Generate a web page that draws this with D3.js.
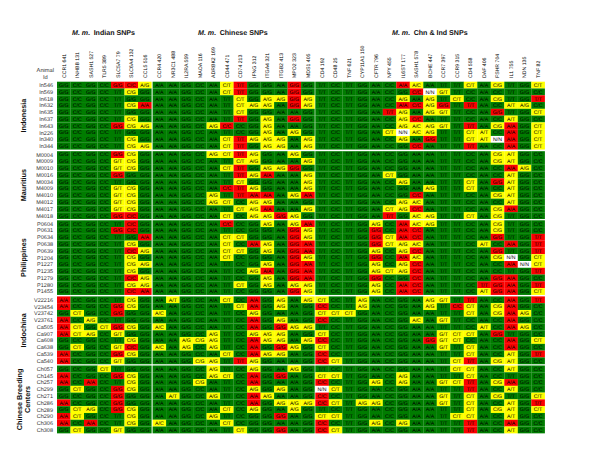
<!DOCTYPE html>
<html><head><meta charset="utf-8">
<script src="https://cdnjs.cloudflare.com/ajax/libs/d3/7.8.5/d3.min.js"></script>
<style>html,body{margin:0;padding:0;background:#fff}svg{display:block;font-family:"Liberation Sans",Arial,sans-serif;text-rendering:geometricPrecision}</style>
</head><body><svg id="c" width="600" height="464"></svg>
<script>
const snpPanels = ["Indian SNPs","Chinese SNPs","Chn & Ind SNPs"];
const indianSnps = ["CCR1 641","INHBB 131","SASH1 527","TLR5 389","SLC5A7 79","SLC6A4 132","CCL5 516"];
const chineseSnps = ["CCR4 420","NR3C1 488","IL2RA 559","MAOA 116","ADRBK2 169","CD44 471","CD74 213","IFNG 312","ITGA4 321","ITGB2 413","MPO2 323","MDS1 405"];
const sharedSnps = ["CD4 192","CD48 25","TNF 621","CYP11A1 150","CFTR 796","NPY 455","IL6ST 177","SASH1 578","BCHE 447","CCR7 397","CCR9 315","CD4 558","DAF 406","FSHR 704","IL1 755","NDN 135","TNF 82"];
// alleles of each SNP: common homozygote letter, rare homozygote letter
const indianAlleles = ["GA","CT","GA","CT","TG","GC","GA"];
const chineseAlleles = ["AC","AT","GA","CG","AG","TC","CT","GA","GA","AG","AG","GA"];
const sharedAlleles = ["TC","CT","TC","GA","AG","CT","GA","AC","AG","TG","TC","CT","AT","CG","TA","GA","CT"];

const indonesiaIds = ["In546","In569","In618","In632","In635","In637","In643","In226","In340","In344"];
const mauritiusIds = ["M0004","M0009","M0010","M0016","M0034","M4009","M4010","M4012","M4017","M4018"];
const philippinesIds = ["P0604","P0631","P0634","P0638","P0639","P1204","P1227","P1235","P1279","P1280","P1455"];
const indochinaIds = ["V22216","V23454","V23742","V23761","Ca505","Ca907","Ca608","Ca638","Ca539","Ca540"];
const chineseIds = ["Ch057","Ch145","Ch257","Ch299","Ch271","Ch286","Ch289","Ch290","Ch306","Ch308"];

// 0 = common homozygote, 1 = heterozygote, 2 = rare homozygote, N = no call
const indonesiaCalls = [
"0000221 000001200020 00000021000101001",
"0000010 000001200020 00000002N10000000",
"0000000 000000101121 00000010101001002",
"0000012 000000111021 00000022120200110",
"0000000 000000100000 00000210110002001",
"0000010 000000201020 00000012000000100",
"0000211 000012001000 00000011110201201",
"0000000 000000001010 000001N1100110201",
"0000010 000001211101 0000001020011N201",
"0000011 000001201101 00000002000200201"];
const mauritiusCalls = [
"0000210 000011210010 00000000000001100",
"0000110 000000110001 00000000000001100",
"0000110 000001201120 00000000000000210",
"0000200 000000212001 00000100000000100",
"0000000 000000100001 00000010000102100",
"0000110 000002210001 00000000100100100",
"0000110 000010222012 00000002000001100",
"0000110 000011011000 00000011000000100",
"0000110 000000112001 00000112000001200",
"0000220 000001011210 00000201100101000"];
const philippinesCalls = [
"0000020 000002001012 00001021100001000",
"0000220 000000000021 00002022000001000",
"0000002 000001100021 00002122000002002",
"0000010 000001021022 00002111000010202",
"0000021 000001101022 00001012000002002",
"0000010 000001000021 00002021000001N01",
"0000011 000000001022 000010120000002N1",
"0000010 000000012022 00001112000000002",
"0000021 000000001022 00002002000002200",
"0000011 000000101011 00001022000022202",
"0000022 000000000021 00001022000012201"];
const indochinaCalls = [
"2000010 010001020101 10010000110200202",
"2000210 000000120100 20010000102101200",
"0100200 100000010000 11100000000101210",
"2010000 000000020100 20000001010000200",
"2101210 100000020211 00000000000010210",
"2110100 000010011100 10000000011102000",
"0000010 001110021101 20000000211000201",
"0100120 101010020210 10000000010100200",
"2000210 000001021100 20000000000100102",
"2000100 000110210000 21000000001201100"];
const breedingCalls = [
"0001000 000010010010 00000000001100100",
"2000210 000011020200 11000010000100000",
"2020010 000100020000 20001010011201200",
"0100210 000000010100 N1000000000200100",
"0000200 010010021000 20000000010101001",
"2000200 000000020111 21011000010100102",
"0110210 000001010010 00000000000101101",
"2100010 000010000200 11000000001100100",
"2020010 100001000000 20001010000200200",
"0100100 000000100200 21000000000200100"];

const sections = [
 {name:["Indonesia"],ids:indonesiaIds,calls:indonesiaCalls,top:81.7,lx:[23.3]},
 {name:["Mauritius"],ids:mauritiusIds,calls:mauritiusCalls,top:151.2,lx:[23.3]},
 {name:["Philippines"],ids:philippinesIds,calls:philippinesCalls,top:220.3,lx:[23.3]},
 {name:["Indochina"],ids:indochinaIds,calls:indochinaCalls,top:296.4,lx:[23.3]},
 {name:["Chinese Breeding","Centers"],ids:chineseIds,calls:breedingCalls,top:365.5,lx:[19,27.7]}
];
const panels = [
 {title:snpPanels[0],snps:indianSnps,alleles:indianAlleles,left:57,tx:72},
 {title:snpPanels[1],snps:chineseSnps,alleles:chineseAlleles,left:152.6,tx:198},
 {title:snpPanels[2],snps:sharedSnps,alleles:sharedAlleles,left:315.3,tx:392}
];
const colW=13.5, rowH=6.78, cellFs=5.2;
const fill=d3.scaleOrdinal().domain(["0","1","2","N"]).range(["#007c00","#ffff00","#fa0000","#ffffff"]);
const svg=d3.select("#c");

function genotype(code,a){
  if(code==="N")return "N/N";
  if(code==="0")return a[0]+"/"+a[0];
  if(code==="2")return a[1]+"/"+a[1];
  return [a[0],a[1]].sort().join("/");
}
panels.forEach(p=>{
  p.x=d3.scaleBand().domain(p.snps).range([p.left,p.left+colW*p.snps.length]);
  const t=svg.append("text").attr("x",p.tx).attr("y",34.5).attr("font-size",7.1).attr("font-weight","bold").attr("fill","#111");
  t.append("tspan").attr("font-style","italic").text("M. m.");
  t.append("tspan").attr("dx",3.5).text(p.title);
  svg.append("g").selectAll("text").data(p.snps).join("text")
    .attr("transform",d=>`translate(${p.x(d)+colW/2+1.8},78) rotate(-90)`)
    .attr("font-size",5.2).attr("fill","#000").text(d=>d);
});
svg.append("g").selectAll("text").data(["Animal","Id"]).join("text")
  .attr("x",45.3).attr("y",(d,i)=>72+i*7).attr("text-anchor","middle").attr("font-size",5.7).attr("fill","#333").text(d=>d);

sections.forEach(s=>{
  const y=d3.scaleBand().domain(s.ids).range([s.top,s.top+rowH*s.ids.length]);
  const cy=s.top+rowH*s.ids.length/2;
  svg.append("g").selectAll("text").data(s.name).join("text")
    .attr("transform",(d,i)=>`translate(${s.lx[i]+2.6},${cy}) rotate(-90)`)
    .attr("text-anchor","middle").attr("font-size",7.25).attr("font-weight","bold").attr("fill","#111").text(d=>d);
  svg.append("g").selectAll("text").data(s.ids).join("text")
    .attr("x",53).attr("y",d=>y(d)+rowH/2+2).attr("text-anchor","end").attr("font-size",5.5).attr("fill","#333").text(d=>d);
  s.ids.forEach((id,r)=>{
    const parts=s.calls[r].split(" ");
    panels.forEach((p,pi)=>{
      const cells=p.snps.map((n,c)=>({n,code:parts[pi][c],a:p.alleles[c]}));
      const g=svg.append("g");
      g.selectAll("rect").data(cells).join("rect")
       .attr("x",d=>p.x(d.n)).attr("y",y(id)).attr("width",p.x.bandwidth()+.1).attr("height",y.bandwidth()+.05)
       .attr("fill",d=>fill(d.code));
      g.selectAll("text").data(cells).join("text")
       .attr("x",d=>p.x(d.n)+colW/2).attr("y",y(id)+rowH/2+1.9).attr("text-anchor","middle")
       .attr("font-size",cellFs).attr("fill","#000").text(d=>genotype(d.code,d.a));
    });
  });
});
</script></body></html>
